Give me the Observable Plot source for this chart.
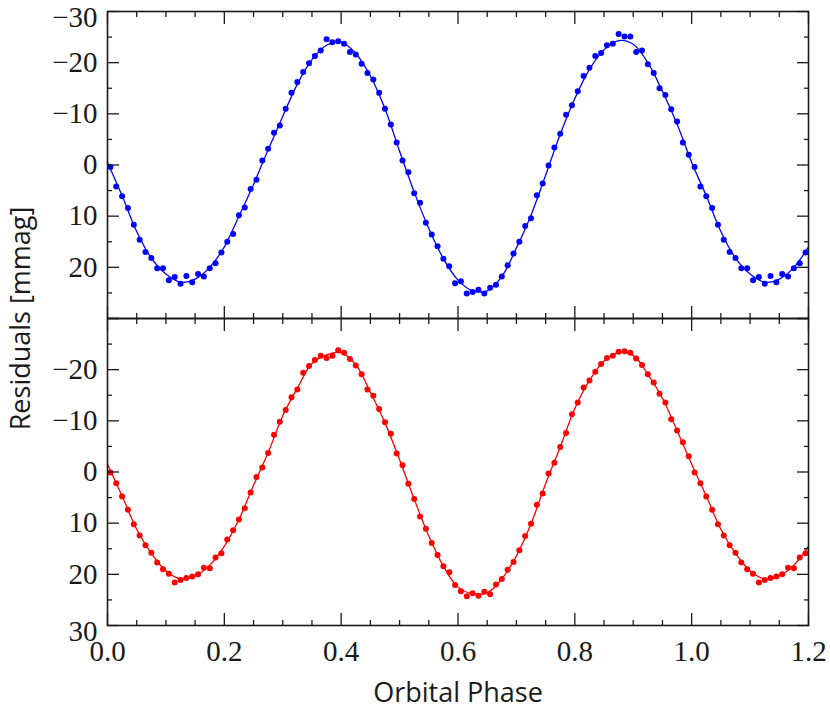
<!DOCTYPE html>
<html>
<head>
<meta charset="utf-8">
<script src="https://cdn.jsdelivr.net/npm/d3@7"></script>
<script src="https://cdn.jsdelivr.net/npm/@observablehq/plot@0.6"></script>
<style>
  html, body { margin: 0; padding: 0; background: #fff; }
</style>
</head>
<body>
<div id="chart"></div>
<script>
// Phase bin centres (0.01 wide bins)
const binPhase = [
  0.005,0.015,0.025,0.035,0.045,0.055,0.065,0.075,0.085,0.095,
  0.105,0.115,0.125,0.135,0.145,0.155,0.165,0.175,0.185,0.195,
  0.205,0.215,0.225,0.235,0.245,0.255,0.265,0.275,0.285,0.295,
  0.305,0.315,0.325,0.335,0.345,0.355,0.365,0.375,0.385,0.395,
  0.405,0.415,0.425,0.435,0.445,0.455,0.465,0.475,0.485,0.495,
  0.505,0.515,0.525,0.535,0.545,0.555,0.565,0.575,0.585,0.595,
  0.605,0.615,0.625,0.635,0.645,0.655,0.665,0.675,0.685,0.695,
  0.705,0.715,0.725,0.735,0.745,0.755,0.765,0.775,0.785,0.795,
  0.805,0.815,0.825,0.835,0.845,0.855,0.865,0.875,0.885,0.895,
  0.905,0.915,0.925,0.935,0.945,0.955,0.965,0.975,0.985,0.995
];

// Upper panel residuals (blue), mmag
const blueResid = [
  0.4, 4.2, 6.1, 8.4, 11.7, 14.6, 17.0, 18.2, 20.2, 20.2,
  22.5, 21.9, 23.2, 21.7, 22.9, 21.3, 21.8, 20.2, 19.2, 17.1,
  15.0, 13.5, 9.8, 8.3, 4.7, 2.9, -0.9, -3.2, -6.3, -7.7,
  -11.0, -14.1, -16.2, -18.2, -19.9, -21.3, -22.4, -24.6, -24.0, -24.2,
  -23.7, -22.1, -21.6, -19.8, -18.0, -16.7, -14.1, -11.0, -7.9, -4.4,
  -0.9, 1.4, 5.5, 7.4, 11.3, 13.6, 15.9, 18.3, 19.8, 23.1,
  22.7, 25.1, 24.8, 24.4, 25.1, 24.0, 23.4, 21.8, 19.6, 17.3,
  15.0, 11.9, 10.4, 5.9, 3.6, 0.1, -3.4, -6.1, -9.8, -11.7,
  -14.4, -17.4, -19.0, -21.3, -21.9, -23.4, -23.7, -25.6, -25.1, -25.1,
  -22.1, -22.4, -19.7, -18.0, -15.0, -13.7, -10.9, -8.5, -4.4, -2.0
];

// Lower panel residuals (red), mmag
const redResid = [
  0.1, 2.2, 4.8, 7.4, 10.2, 12.4, 14.3, 15.8, 17.7, 19.0,
  19.9, 21.6, 21.1, 20.7, 20.4, 20.0, 18.7, 18.8, 16.7, 15.9,
  13.2, 11.4, 9.3, 7.1, 4.0, 1.0, -0.9, -3.7, -7.3, -9.8,
  -12.1, -14.6, -16.1, -19.4, -20.7, -21.9, -22.7, -22.3, -22.7, -23.8,
  -23.3, -22.1, -20.8, -19.1, -16.1, -14.9, -12.3, -9.7, -7.5, -3.6,
  -1.3, 2.3, 5.3, 8.7, 11.1, 13.9, 16.2, 18.4, 19.6, 22.1,
  23.3, 24.3, 23.7, 24.2, 23.4, 23.9, 22.0, 20.9, 19.1, 17.6,
  15.3, 12.5, 10.1, 6.4, 4.2, 0.3, -1.8, -4.9, -7.6, -11.3,
  -13.6, -16.5, -17.9, -19.6, -21.1, -22.3, -22.7, -23.5, -23.6, -23.3,
  -22.2, -20.9, -19.1, -17.5, -15.3, -13.6, -10.3, -8.1, -5.8, -3.1
];

// Fitted model curves, read at knots
const fitPhase = [
  0.000,0.025,0.050,0.075,0.100,0.125,0.150,0.175,0.200,0.225,
  0.250,0.275,0.300,0.325,0.350,0.375,0.400,0.425,0.450,0.475,
  0.500,0.525,0.550,0.575,0.600,0.625,0.650,0.675,0.700,0.725,
  0.750,0.775,0.800,0.825,0.850,0.875,0.900,0.925,0.950,0.975,1.000
];
const blueFit = [
  -0.5, 6.0, 13.0, 18.2, 21.3, 22.9, 22.3, 20.0, 16.0, 10.0,
  3.8, -3.0, -9.5, -15.8, -20.6, -23.4, -24.0, -21.8, -17.4, -11.0,
  -2.7, 5.3, 12.4, 18.3, 22.5, 24.6, 24.6, 21.8, 16.2, 9.8,
  2.0, -6.0, -13.0, -18.7, -22.5, -24.3, -23.6, -20.0, -14.4, -8.0, -0.5
];
const redFit = [
  -1.5, 4.7, 11.2, 15.9, 19.3, 20.9, 20.3, 18.2, 14.5, 9.3,
  2.6, -3.8, -11.0, -16.4, -21.2, -22.9, -23.3, -21.0, -15.6, -9.6,
  -2.4, 5.3, 12.5, 18.4, 22.5, 23.8, 23.6, 20.9, 16.4, 10.1,
  2.3, -4.9, -12.4, -17.9, -21.7, -23.4, -22.8, -19.1, -14.4, -8.1, -1.5
];

const panels = ["top", "bottom"];
const xMajorTicks = [0, 0.2, 0.4, 0.6, 0.8, 1.0, 1.2];
const xMinorTicks = [0.05,0.1,0.15,0.25,0.3,0.35,0.45,0.5,0.55,0.65,0.7,0.75,0.85,0.9,0.95,1.05,1.1,1.15];
const yMajorTicks = [-30, -20, -10, 0, 10, 20, 30];
const yMinorTicks = [-25, -15, -5, 5, 15, 25];
const topTickLabels = [-20, -10, 0, 10, 20];
const topEdgeLabels = [-30];
const bottomTickLabels = [-20, -10, 0, 10, 20];
const bottomEdgeLabels = [30];
const xTitle = "Orbital Phase";
const yTitle = "Residuals [mmag]";
const maxPhase = 1.2;

// Phase-folded: repeat the cycle beyond phase 1 up to maxPhase
function fold(phases, values, panel) {
  const rows = phases.map((p, i) => ({phase: p, v: values[i], panel}));
  phases.forEach((p, i) => {
    if (p > 0 && p + 1 <= maxPhase + 1e-9) rows.push({phase: p + 1, v: values[i], panel});
  });
  return rows;
}
const blueDots = fold(binPhase, blueResid, "top");
const redDots = fold(binPhase, redResid, "bottom");
const blueLine = fold(fitPhase, blueFit, "top");
const redLine = fold(fitPhase, redFit, "bottom");

const labelRows = [
  ...topTickLabels.map(v => ({panel: "top", v})),
  ...bottomTickLabels.map(v => ({panel: "bottom", v}))
];
const edgeLabelRows = [
  ...topEdgeLabels.map(v => ({panel: "top", v})),
  ...bottomEdgeLabels.map(v => ({panel: "bottom", v}))
];
const fmtY = d3.format("d");
const serif = "Liberation Serif, Times New Roman, serif";
const sans = "Open Sans, Noto Sans, sans-serif";
const ink = "#1a1a1a";

const chart = Plot.plot({
  width: 830,
  height: 715,
  marginTop: 10,
  marginBottom: 90,
  marginLeft: 107,
  marginRight: 22,
  style: {background: "#fff", overflow: "visible"},
  x: {domain: [0, 1.2], label: null},
  y: {domain: [-30, 30], reverse: true, label: null},
  fy: {domain: panels, padding: 0, axis: null, label: null},
  marks: [
    Plot.line(blueLine, {x: "phase", y: "v", fy: "panel", stroke: "#0000ff", strokeWidth: 1.3, curve: "catmull-rom"}),
    Plot.dot(blueDots, {x: "phase", y: "v", fy: "panel", r: 3, fill: "#0000ff", stroke: "none"}),
    Plot.line(redLine, {x: "phase", y: "v", fy: "panel", stroke: "#ff0000", strokeWidth: 1.3, curve: "catmull-rom"}),
    Plot.dot(redDots, {x: "phase", y: "v", fy: "panel", r: 3, fill: "#ff0000", stroke: "none"}),
    Plot.frame({stroke: ink, strokeWidth: 1.6}),
    // inward ticks on every panel edge
    Plot.axisX({anchor: "top", ticks: xMajorTicks, tickSize: -12, fill: "none", stroke: ink, strokeWidth: 1.3, facetAnchor: null, label: null}),
    Plot.axisX({anchor: "top", ticks: xMinorTicks, tickSize: -5, fill: "none", stroke: ink, strokeWidth: 1.3, facetAnchor: null, label: null}),
    Plot.axisX({anchor: "bottom", ticks: xMajorTicks, tickSize: -12, fill: "none", stroke: ink, strokeWidth: 1.3, facetAnchor: null, label: null}),
    Plot.axisX({anchor: "bottom", ticks: xMinorTicks, tickSize: -5, fill: "none", stroke: ink, strokeWidth: 1.3, facetAnchor: null, label: null}),
    Plot.axisY({anchor: "left", ticks: yMajorTicks, tickSize: -12, fill: "none", stroke: ink, strokeWidth: 1.3, facetAnchor: null, label: null}),
    Plot.axisY({anchor: "left", ticks: yMinorTicks, tickSize: -5, fill: "none", stroke: ink, strokeWidth: 1.3, facetAnchor: null, label: null}),
    Plot.axisY({anchor: "right", ticks: yMajorTicks, tickSize: -12, fill: "none", stroke: ink, strokeWidth: 1.3, facetAnchor: null, label: null}),
    Plot.axisY({anchor: "right", ticks: yMinorTicks, tickSize: -5, fill: "none", stroke: ink, strokeWidth: 1.3, facetAnchor: null, label: null}),
    // x tick labels on the bottom panel
    Plot.axisX({anchor: "bottom", ticks: xMajorTicks, tickSize: 0, tickPadding: 15, tickFormat: d3.format(".1f"), fill: ink, fontFamily: serif, fontSize: 29, label: null}),
    // y tick labels per panel
    Plot.text(labelRows, {fy: "panel", y: "v", text: d => fmtY(d.v), frameAnchor: "left", textAnchor: "end", dx: -10, fill: ink, fontFamily: serif, fontSize: 29}),
    Plot.text(edgeLabelRows, {fy: "panel", y: "v", text: d => fmtY(d.v), frameAnchor: "left", textAnchor: "end", dx: -10, dy: 6, fill: ink, fontFamily: serif, fontSize: 29}),
    // axis titles
    Plot.text([{panel: "bottom", t: xTitle}], {fy: "panel", text: "t", frameAnchor: "bottom", textAnchor: "middle", dy: 76, fill: ink, fontFamily: sans, fontSize: 27}),
    Plot.text([{panel: "top", t: yTitle}], {fy: "panel", text: "t", frameAnchor: "bottom-left", textAnchor: "middle", dx: -78, rotate: -90, fill: ink, fontFamily: sans, fontSize: 27})
  ]
});
document.getElementById("chart").appendChild(chart);
</script>
</body>
</html>
